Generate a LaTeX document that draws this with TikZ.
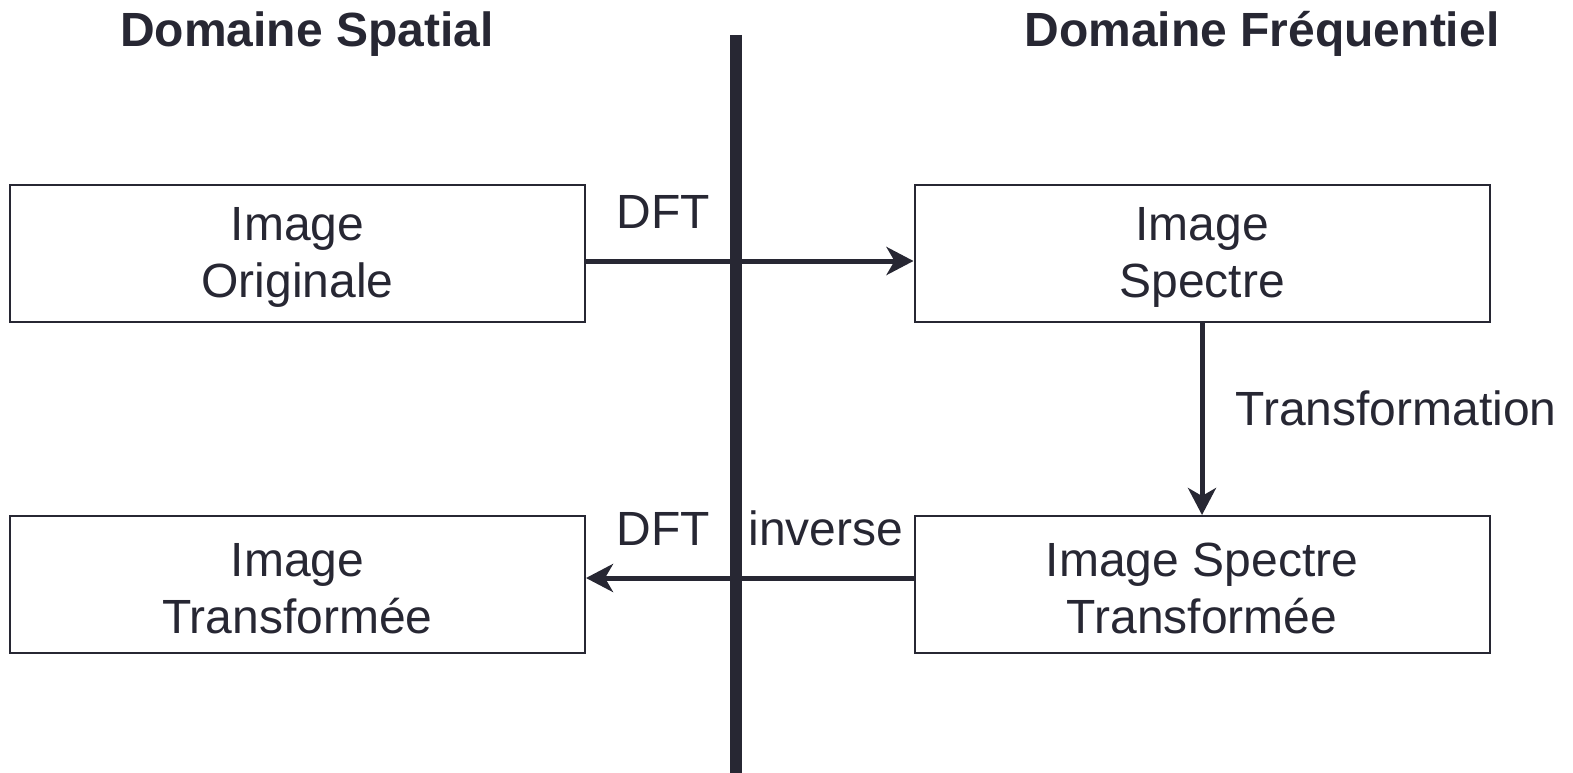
\documentclass[tikz,border=0pt]{standalone}
\usepackage{fontspec}
\setmainfont{Liberation Sans}
\usetikzlibrary{arrows.meta}
\definecolor{ink}{RGB}{39,39,51}
\begin{document}
\begin{tikzpicture}[x=1pt,y=-1pt,
  every node/.style={text=ink, font=\fontsize{48}{57}\selectfont},
  box/.style={draw=ink, line width=2pt, minimum width=575pt, minimum height=137pt,
    inner sep=0pt, fill=white},
  boxtext/.style={inner sep=0pt, align=center},
  flow/.style={draw=ink, line width=5pt,
    -{Stealth[length=27pt, width=28pt, inset=8pt]}},
  lbl/.style={anchor=base, inner sep=0pt},
  head/.style={anchor=base, inner sep=0pt, font=\fontsize{48}{57}\selectfont\bfseries}]
  \useasboundingbox (0,0) rectangle (1573,773);

  % domain titles
  \node[head] (tspat) at (307,47) {Domaine Spatial};
  \node[head] (tfreq) at (1262,47) {Domaine Fréquentiel};

  % the four images
  \node[box] (orig) at (297.5,253.5) {};
  \node[box] (spec) at (1202,253.5) {};
  \node[box] (res)  at (297.5,584.5) {};
  \node[box] (tspec) at (1202,584.5) {};
  \node[boxtext] (origt)  at ([yshift=-4pt]orig.center)  {Image\\Originale};
  \node[boxtext] (spect)  at ([yshift=-4pt]spec.center)  {Image\\Spectre};
  \node[boxtext] (rest)   at ([yshift=-4pt]res.center)   {Image\\Transformée};
  \node[boxtext] (tspect) at ([yshift=-4pt]tspec.center) {Image Spectre\\Transformée};

  % transforms
  \draw[flow] ([yshift=-7.5pt]orig.east) -- ([yshift=-7.5pt]orig.east -| spec.west);
  \draw[flow] (spec.south) -- (tspec.north);
  \draw[flow] ([yshift=6.5pt]tspec.west) -- ([yshift=6.5pt]tspec.west -| res.east);

  % separator between the domains
  \coordinate (bartop) at (736,35);
  \coordinate (barbot) at (736,773);
  \draw[draw=ink, line width=12pt] (bartop) -- (barbot);

  % labels
  \node[lbl] (ldft) at (663,228) {DFT};
  \node[lbl] (ltr) at (1396,425) {Transformation};
  \node[lbl] (lidft) at (663,545) {DFT};
  \node[lbl] (linv) at (826,545) {inverse};
\end{tikzpicture}
\end{document}
